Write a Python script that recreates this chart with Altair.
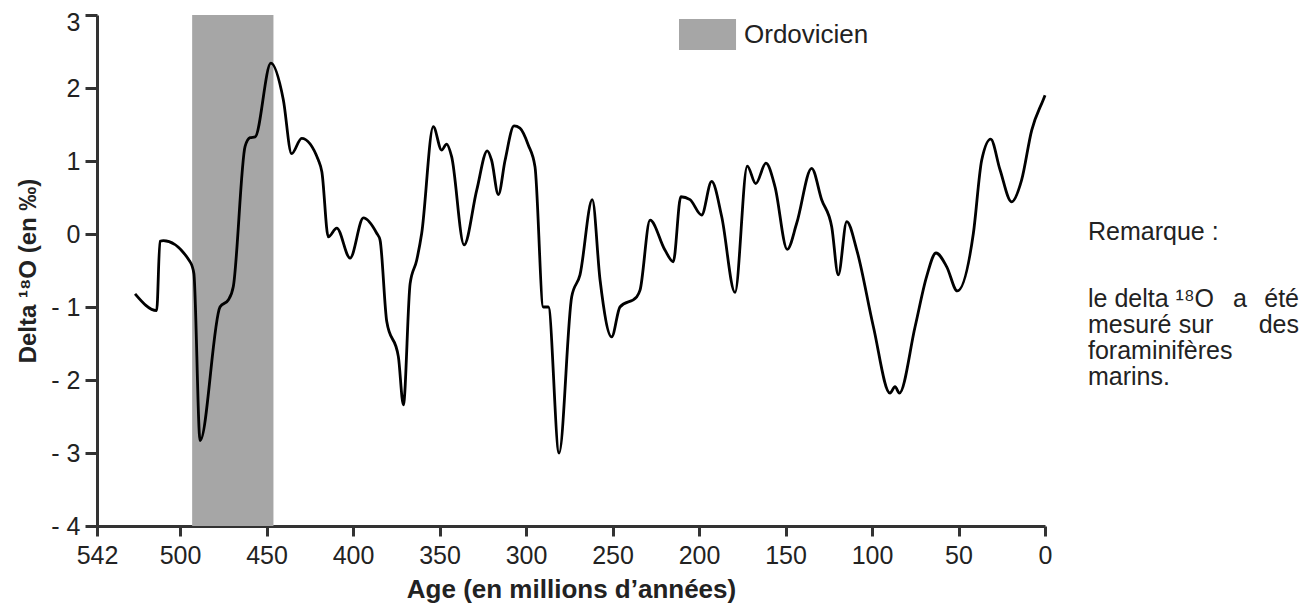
import altair as alt
import pandas as pd

# --- data ---
ages = [526, 513.5, 511.6, 509.6, 494.2, 492, 488.4, 476.9, 472, 469.2, 462.4, 459.5,
        456.6, 447.5, 440.3, 435.5, 429.7, 420, 418, 414.3, 409.4, 401.7, 394, 386.3,
        384.4, 380.5, 373.8, 370.9, 367, 363.2, 360.3, 353.6, 348.8, 345.9, 343, 335.8,
        328.5, 322.4, 319.9, 316, 312.1, 306.9, 303.5, 298.7, 294.8, 290, 287.1, 280.9,
        273.6, 268.8, 261.7, 257.2, 250.5, 245.7, 236, 234.1, 228.3, 219.7, 214.9, 210.5,
        205.2, 198.5, 192.7, 186.9, 179.2, 172.1, 167.2, 161.3, 156.1, 149, 143.5, 134.9,
        129.1, 123.3, 119.5, 114.6, 108.8, 99.2, 89.6, 86.7, 84.2, 75.1, 68.4, 63, 56.8,
        50.7, 41.4, 36.6, 31.4, 26, 19.3, 13.5, 7.7, 1, 0]
delta18o = [-0.82, -1.05, -0.10, -0.09, -0.38, -0.54, -2.83, -1.0, -0.9, -0.72, 1.2, 1.32,
            1.33, 2.34, 1.84, 1.1, 1.31, 1.01, 0.85, -0.04, 0.08, -0.33, 0.22, 0.01,
            -0.08, -1.2, -1.68, -2.34, -0.68, -0.36, 0.01, 1.47, 1.15, 1.23, 1.06, -0.15,
            0.60, 1.14, 1.01, 0.54, 1.01, 1.48, 1.45, 1.22, 0.92, -1.0, -1.0, -3.0,
            -0.86, -0.56, 0.47, -0.63, -1.41, -1.0, -0.86, -0.77, 0.19, -0.22, -0.38, 0.51,
            0.47, 0.26, 0.72, 0.24, -0.80, 0.93, 0.69, 0.97, 0.65, -0.21, 0.15, 0.90,
            0.47, 0.10, -0.56, 0.17, -0.22, -1.27, -2.18, -2.09, -2.18, -1.27, -0.58, -0.26, -0.45,
            -0.78, 0.01, 1.01, 1.30, 0.88, 0.44, 0.74, 1.42, 1.84, 1.9]

periode = ["Ordovicien"]
periode_debut = [493]
periode_fin = [446]
y_haut = [3]
y_bas = [-4]

x_ticks = [548, 500, 450, 400, 350, 300, 250, 200, 150, 100, 50, 0]
y_ticks = [3, 2, 1, 0, -1, -2, -3, -4]

remarque_titre = "Remarque :"
rem_l2_debut = "le delta \u00b9\u2078O"
rem_l2_milieu = "a"
rem_l2_fin = "été"
rem_l3_debut = "mesuré"
rem_l3_milieu = "sur"
rem_l3_fin = "des"
rem_l4_5 = ["foraminifères", "marins."]

FONT = "Liberation Sans"
TXT = "#222"

xscale = alt.Scale(domain=[0, 548], reverse=True, nice=False, zero=False)
yscale = alt.Scale(domain=[-4, 3], nice=False, zero=False)

xaxis = alt.Axis(
    values=x_ticks,
    labelExpr="datum.value == 548 ? '542' : datum.label",
    title="Age (en millions d\u2019années)",
    grid=False, tickSize=10, tickWidth=3, tickColor="#333",
    domainColor="#333", domainWidth=3,
    labelFont=FONT, labelFontSize=25, labelColor=TXT, labelPadding=7,
    titleFont=FONT, titleFontSize=26, titleFontWeight="bold", titleColor=TXT,
    titlePadding=8, labelFlush=False, labelOverlap=False,
)
yaxis = alt.Axis(
    values=y_ticks,
    labelExpr="datum.value < 0 ? '- ' + abs(datum.value) : datum.label",
    labelOffset={"condition": {"test": "datum.value == 3", "value": 7}, "value": 0},
    title="Delta \u00b9\u2078O (en \u2030)",
    grid=False, tickSize=12, tickWidth=3, tickColor="#333",
    domainColor="#333", domainWidth=3,
    labelFont=FONT, labelFontSize=25, labelColor=TXT, labelPadding=5,
    titleFont=FONT, titleFontSize=24, titleFontWeight="bold", titleColor=TXT,
    titlePadding=10, labelFlush=False, labelOverlap=False,
)

courbe_df = pd.DataFrame({"age": ages, "delta": delta18o})
shade_df = pd.DataFrame({"periode": periode, "debut": periode_debut, "fin": periode_fin,
                         "haut": y_haut, "bas": y_bas})

shade = alt.Chart(shade_df).mark_rect(opacity=1, strokeWidth=0).encode(
    x=alt.X("debut:Q", scale=xscale, axis=xaxis),
    x2="fin:Q",
    y=alt.Y("haut:Q", scale=yscale, axis=yaxis),
    y2="bas:Q",
    color=alt.Color(
        "periode:N",
        scale=alt.Scale(range=["#a6a6a6"]),
        legend=alt.Legend(
            title=None, orient="none", legendX=582, legendY=4,
            symbolType="M-1,-1H2.68V1H-1Z", symbolSize=961, symbolStrokeWidth=0,
            symbolOpacity=1, labelFont=FONT, labelFontSize=26, labelColor=TXT,
            labelOffset=34, padding=0,
        ),
    ),
)

courbe = alt.Chart(courbe_df).mark_line(color="black", strokeWidth=2.8, interpolate="monotone").encode(
    x=alt.X("age:Q", scale=xscale, axis=xaxis),
    y=alt.Y("delta:Q", scale=yscale, axis=yaxis),
    order=alt.Order("age:Q", sort="descending"),
)

REM_L, REM_R = 991, 1202


def texte(t, x, y, align="left"):
    return alt.Chart(pd.DataFrame({"t": [t]})).mark_text(
        align=align, baseline="alphabetic", font=FONT, fontSize=25, color=TXT
    ).encode(text="t:N", x=alt.value(x), y=alt.value(y))


rem = [
    texte(remarque_titre, REM_L, 225),
    texte(rem_l2_debut, REM_L, 292),
    texte(rem_l2_milieu, 1143, 292, "center"),
    texte(rem_l2_fin, REM_R, 292, "right"),
    texte(rem_l3_debut, REM_L, 318),
    texte(rem_l3_milieu, 1099, 318, "center"),
    texte(rem_l3_fin, REM_R, 318, "right"),
    texte(rem_l4_5[0], REM_L, 344),
    texte(rem_l4_5[1], REM_L, 370),
]

chart = alt.layer(shade, courbe, *rem).properties(
    width=948, height=511,
    autosize=alt.AutoSizeParams(type="none"),
    padding={"left": 89, "top": 7, "right": 255, "bottom": 80},
).configure(background="white").configure_view(stroke=None)

chart.save("out.html", embed_options={"renderer": "svg", "actions": False})
